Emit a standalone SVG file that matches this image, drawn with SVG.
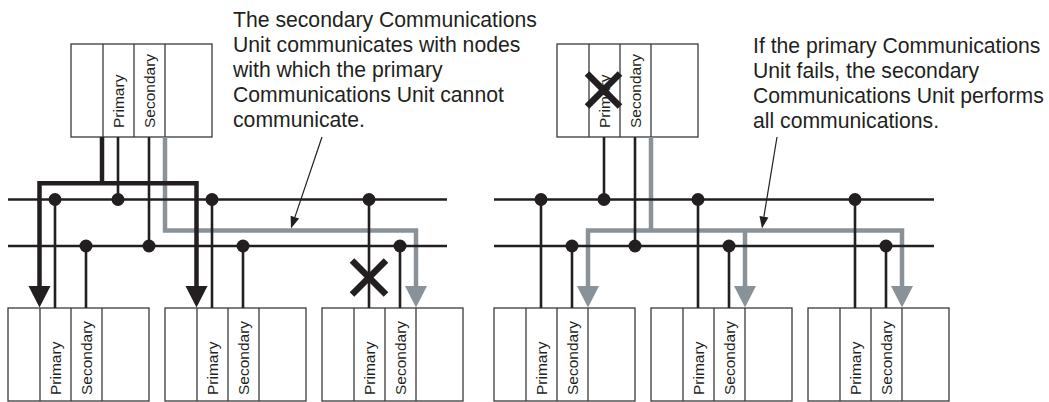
<svg xmlns="http://www.w3.org/2000/svg" width="1049" height="402" viewBox="0 0 1049 402">
<style>
.box{fill:#fff;stroke:#3a3a3a;stroke-width:1.3}
.div{stroke:#3a3a3a;stroke-width:1.3}
.lbl{font-family:"Liberation Sans",Arial,sans-serif;font-size:15.5px;fill:#231f20}
.note{font-family:"Liberation Sans",Arial,sans-serif;font-size:21.2px;fill:#231f20}
.bus{stroke:#231f20;stroke-width:2.6;fill:none}
.drop{stroke:#231f20;stroke-width:2.6;fill:none}
.thick{stroke:#231f20;stroke-width:4.5;fill:none;stroke-linejoin:miter}
.gray{stroke:#8a9299;stroke-width:4.5;fill:none;stroke-linejoin:miter}
.ghead{fill:#8a9299}
.bhead{fill:#231f20}
.dot{fill:#231f20}
.x{stroke:#231f20;stroke-width:6.5}
.lead{stroke:#231f20;stroke-width:1.2;fill:none}
</style>
<defs>
<g id="cols">
<line class="div" x1="32" y1="0" x2="32" y2="93"/>
<line class="div" x1="63" y1="0" x2="63" y2="93"/>
<line class="div" x1="94" y1="0" x2="94" y2="93"/>
</g>
</defs>

<!-- Left panel units -->
<g id="L-top">
<rect class="box" x="71" y="44" width="141" height="93"/>
<use href="#cols" x="71" y="44"/>
<text class="lbl" transform="translate(124,128) rotate(-90)">Primary</text>
<text class="lbl" transform="translate(155,128) rotate(-90)">Secondary</text>
</g>
<g id="L-node1">
<rect class="box" x="8" y="308" width="141" height="93"/>
<use href="#cols" x="8" y="308"/>
<text class="lbl" transform="translate(61,395) rotate(-90)">Primary</text>
<text class="lbl" transform="translate(92,395) rotate(-90)">Secondary</text>
</g>
<g id="L-node2">
<rect class="box" x="165" y="308" width="141" height="93"/>
<use href="#cols" x="165" y="308"/>
<text class="lbl" transform="translate(218,395) rotate(-90)">Primary</text>
<text class="lbl" transform="translate(249,395) rotate(-90)">Secondary</text>
</g>
<g id="L-node3">
<rect class="box" x="322" y="308" width="141" height="93"/>
<use href="#cols" x="322" y="308"/>
<text class="lbl" transform="translate(375,395) rotate(-90)">Primary</text>
<text class="lbl" transform="translate(406,395) rotate(-90)">Secondary</text>
</g>

<!-- Right panel units -->
<g id="R-top">
<rect class="box" x="557" y="44" width="141" height="93"/>
<use href="#cols" x="557" y="44"/>
<text class="lbl" transform="translate(610,128) rotate(-90)">Primary</text>
<text class="lbl" transform="translate(641,128) rotate(-90)">Secondary</text>
<line class="x" x1="587" y1="73.5" x2="620" y2="106.5"/>
<line class="x" x1="620" y1="73.5" x2="587" y2="106.5"/>
</g>
<g id="R-node1">
<rect class="box" x="494" y="308" width="141" height="93"/>
<use href="#cols" x="494" y="308"/>
<text class="lbl" transform="translate(547,395) rotate(-90)">Primary</text>
<text class="lbl" transform="translate(578,395) rotate(-90)">Secondary</text>
</g>
<g id="R-node2">
<rect class="box" x="651" y="308" width="141" height="93"/>
<use href="#cols" x="651" y="308"/>
<text class="lbl" transform="translate(704,395) rotate(-90)">Primary</text>
<text class="lbl" transform="translate(735,395) rotate(-90)">Secondary</text>
</g>
<g id="R-node3">
<rect class="box" x="808" y="308" width="141" height="93"/>
<use href="#cols" x="808" y="308"/>
<text class="lbl" transform="translate(861,395) rotate(-90)">Primary</text>
<text class="lbl" transform="translate(892,395) rotate(-90)">Secondary</text>
</g>

<g id="connectors">
<!-- gray paths (under black) -->
<path class="gray" d="M165,137 V230.5 H416 V288"/>
<polygon class="ghead" points="405,286 427,286 416,307.5"/>
<path class="gray" d="M651,137 V230.5"/>
<path class="gray" d="M588,288 V230.5 H902 V288"/>
<path class="gray" d="M745,230.5 V288"/>
<polygon class="ghead" points="577,286 599,286 588,307.5"/>
<polygon class="ghead" points="734,286 756,286 745,307.5"/>
<polygon class="ghead" points="891,286 913,286 902,307.5"/>

<!-- buses -->
<line class="bus" x1="8" y1="199.5" x2="447" y2="199.5"/>
<line class="bus" x1="8" y1="246" x2="447" y2="246"/>
<line class="bus" x1="494" y1="199.5" x2="934" y2="199.5"/>
<line class="bus" x1="494" y1="246" x2="934" y2="246"/>

<!-- left drops -->
<line class="drop" x1="118" y1="137" x2="118" y2="199.5"/>
<line class="drop" x1="149" y1="137" x2="149" y2="246"/>
<line class="drop" x1="55" y1="199.5" x2="55" y2="308"/>
<line class="drop" x1="86" y1="246" x2="86" y2="308"/>
<line class="drop" x1="212" y1="199.5" x2="212" y2="308"/>
<line class="drop" x1="243" y1="246" x2="243" y2="308"/>
<line class="drop" x1="369" y1="199.5" x2="369" y2="308"/>
<line class="drop" x1="400" y1="246" x2="400" y2="308"/>

<!-- right drops -->
<line class="drop" x1="604" y1="137" x2="604" y2="199.5"/>
<line class="drop" x1="635" y1="137" x2="635" y2="246"/>
<line class="drop" x1="541" y1="199.5" x2="541" y2="308"/>
<line class="drop" x1="572" y1="246" x2="572" y2="308"/>
<line class="drop" x1="698" y1="199.5" x2="698" y2="308"/>
<line class="drop" x1="729" y1="246" x2="729" y2="308"/>
<line class="drop" x1="855" y1="199.5" x2="855" y2="308"/>
<line class="drop" x1="886" y1="246" x2="886" y2="308"/>

<!-- thick black paths -->
<path class="thick" d="M102,137 V183.3"/>
<path class="thick" d="M39.5,288 V183.3 H196.5 V288"/>
<polygon class="bhead" points="28.5,286 50.5,286 39.5,307.5"/>
<polygon class="bhead" points="185.5,286 207.5,286 196.5,307.5"/>

<!-- dots -->
<circle class="dot" cx="55" cy="199.5" r="6.5"/>
<circle class="dot" cx="118" cy="199.5" r="6.5"/>
<circle class="dot" cx="212" cy="199.5" r="6.5"/>
<circle class="dot" cx="369" cy="199.5" r="6.5"/>
<circle class="dot" cx="86" cy="246" r="6.5"/>
<circle class="dot" cx="149" cy="246" r="6.5"/>
<circle class="dot" cx="243" cy="246" r="6.5"/>
<circle class="dot" cx="400" cy="246" r="6.5"/>
<circle class="dot" cx="541" cy="199.5" r="6.5"/>
<circle class="dot" cx="604" cy="199.5" r="6.5"/>
<circle class="dot" cx="698" cy="199.5" r="6.5"/>
<circle class="dot" cx="855" cy="199.5" r="6.5"/>
<circle class="dot" cx="572" cy="246" r="6.5"/>
<circle class="dot" cx="635" cy="246" r="6.5"/>
<circle class="dot" cx="729" cy="246" r="6.5"/>
<circle class="dot" cx="886" cy="246" r="6.5"/>

<!-- failure mark on link -->
<line class="x" x1="352" y1="260.5" x2="386" y2="294.5"/>
<line class="x" x1="386" y1="260.5" x2="352" y2="294.5"/>

<!-- leaders -->
<line class="lead" x1="322" y1="137" x2="294.9" y2="217.1"/>
<polygon class="bhead" points="291,228.5 299.1,218.6 290.6,215.7"/>
<line class="lead" x1="777" y1="137" x2="763.9" y2="216.7"/>
<polygon class="bhead" points="762,228.5 768.4,217.4 759.5,215.9"/>
</g>

<g id="note-left">
<text class="note" x="233" y="27">The secondary Communications</text>
<text class="note" x="233" y="52">Unit communicates with nodes</text>
<text class="note" x="233" y="77">with which the primary</text>
<text class="note" x="233" y="102">Communications Unit cannot</text>
<text class="note" x="233" y="127">communicate.</text>
</g>
<g id="note-right">
<text class="note" x="753" y="53">If the primary Communications</text>
<text class="note" x="753" y="78">Unit fails, the secondary</text>
<text class="note" x="753" y="103">Communications Unit performs</text>
<text class="note" x="753" y="128">all communications.</text>
</g>
</svg>
